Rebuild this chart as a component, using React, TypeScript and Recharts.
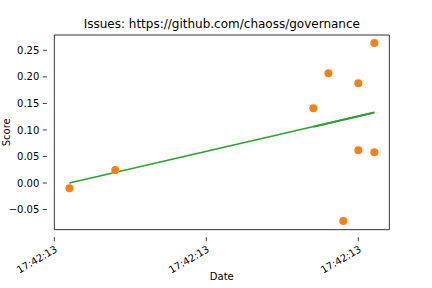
import React from 'react';
import { ComposedChart, Scatter, Line, XAxis, YAxis, ReferenceArea } from 'recharts';

const pointX = [0.099, 0.401, 1.704, 1.803, 1.901, 2.0, 2.0, 2.105, 2.105];
const pointY = [-0.010, 0.0245, 0.141, 0.207, -0.0717, 0.188, 0.0617, 0.2636, 0.0579];
const fitX = [0.099, 2.105];
const fitY = [0.0, 0.1327];
const fitTailX = [1.704, 2.105];
const fitTailY = [0.106, 0.1327];
const xTicks = [0, 1, 2];
const xTickLabels = ['17:42:13', '17:42:13', '17:42:13'];
const yTicks = [-0.05, 0, 0.05, 0.1, 0.15, 0.2, 0.25];

const points = pointX.map((x, i) => ({ x, y: pointY[i] }));
const fit = fitX.map((x, i) => ({ x, y: fitY[i] }));
const fitTail = fitTailX.map((x, i) => ({ x, y: fitTailY[i] }));

const FONT = 'DejaVu Sans, sans-serif';
const X_DOMAIN: [number, number] = [0, 2.204];
const Y_DOMAIN: [number, number] = [-0.0879, 0.2789];

const fmtY = (v: number) => {
  const s = Math.abs(v).toFixed(2);
  return v < 0 ? '\u2212' + s : s;
};

const XTick = (props: any) => {
  const { x, y, payload } = props;
  const idx = xTicks.indexOf(payload.value);
  const label = idx >= 0 ? xTickLabels[idx] : '';
  const ty = y + 7;
  return (
    <g>
      <line x1={x} y1={y - 0.5} x2={x} y2={y + 3.5} stroke="#000" strokeWidth={0.8} />
      <text
        x={x}
        y={ty}
        dy="0.76em"
        textAnchor="end"
        fontSize={10}
        fontFamily={FONT}
        fill="#000"
        transform={`rotate(-30 ${x} ${ty})`}
      >
        {label}
      </text>
    </g>
  );
};

const YTick = (props: any) => {
  const { x, y, payload } = props;
  return (
    <g>
      <line x1={x - 3.5} y1={y} x2={x + 0.5} y2={y} stroke="#000" strokeWidth={0.8} />
      <text x={x - 7} y={y} dy="0.36em" textAnchor="end" fontSize={10} fontFamily={FONT} fill="#000">
        {fmtY(payload.value)}
      </text>
    </g>
  );
};

const Dot = (props: any) => {
  const { cx, cy } = props;
  return <circle cx={cx} cy={cy} r={4} fill="#ff7f0e" />;
};

export default function App() {
  return (
    <div style={{ position: 'absolute', left: 0, top: 0, width: 432, height: 288, background: '#fff' }}>
      <ComposedChart
        width={432}
        height={288}
        margin={{ top: 35, right: 42.67, left: 0, bottom: 0 }}
      >
        <XAxis
          type="number"
          dataKey="x"
          domain={X_DOMAIN}
          ticks={xTicks}
          allowDataOverflow
          height={58.33}
          tick={<XTick />}
          tickLine={false}
          axisLine={false}
          interval={0}
        />
        <YAxis
          type="number"
          dataKey="y"
          domain={Y_DOMAIN}
          ticks={yTicks}
          allowDataOverflow
          width={54.33}
          tick={<YTick />}
          tickLine={false}
          axisLine={false}
          interval={0}
        />
        <Line
          data={fit}
          dataKey="y"
          type="linear"
          stroke="#2ca02c"
          strokeWidth={1.5}
          dot={false}
          activeDot={false}
          isAnimationActive={false}
        />
        <Line
          data={fitTail}
          dataKey="y"
          type="linear"
          stroke="#2ca02c"
          strokeWidth={2}
          dot={false}
          activeDot={false}
          isAnimationActive={false}
        />
        <Scatter data={points} dataKey="y" shape={<Dot />} isAnimationActive={false} />
        <ReferenceArea
          x1={X_DOMAIN[0]}
          x2={X_DOMAIN[1]}
          y1={Y_DOMAIN[0]}
          y2={Y_DOMAIN[1]}
          fill="none"
          stroke="#000"
          strokeWidth={0.8}
          fillOpacity={0}
          ifOverflow="visible"
        />
      </ComposedChart>
      <svg
        width={432}
        height={288}
        style={{ position: 'absolute', left: 0, top: 0, pointerEvents: 'none' }}
      >
        <text x={221.8} y={27.5} textAnchor="middle" fontSize={12} fontFamily={FONT} fill="#000">
          Issues: https://github.com/chaoss/governance
        </text>
        <text x={221.8} y={279.5} textAnchor="middle" fontSize={10} fontFamily={FONT} fill="#000">
          Date
        </text>
        <text
          x={10.5}
          y={132.3}
          textAnchor="middle"
          fontSize={10}
          fontFamily={FONT}
          fill="#000"
          transform="rotate(-90 10.5 132.3)"
        >
          Score
        </text>
      </svg>
    </div>
  );
}
